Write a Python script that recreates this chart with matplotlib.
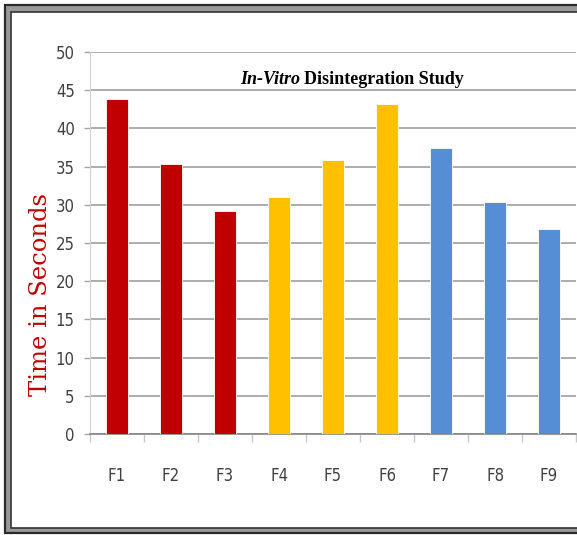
import matplotlib
matplotlib.use("Agg")
import matplotlib.pyplot as plt
from matplotlib.patches import Rectangle
import numpy as np

# disintegration times per formulation
formulations = ["F1", "F2", "F3", "F4", "F5", "F6", "F7", "F8", "F9"]
times = [43.8, 35.3, 29.2, 31.0, 35.8, 43.2, 37.4, 30.4, 26.8]
bar_colors = ["#C00000"] * 3 + ["#FFC000"] * 3 + ["#558ED5"] * 3
yticks = list(range(0, 55, 5))

W, H = 577, 535
fig = plt.figure(figsize=(W / 100, H / 100), dpi=100)


def fx(px):
    return px / W


def fy(py):
    return 1 - py / H


# double frame around the chart
fig.patches.append(Rectangle((fx(5), fy(533)), fx(700), 528 / H,
                             transform=fig.transFigure, facecolor="#9a9a9a",
                             edgecolor="#2a2a2a", linewidth=1.6, zorder=-2))
fig.patches.append(Rectangle((fx(11), fy(528)), fx(700), 516 / H,
                             transform=fig.transFigure, facecolor="white",
                             edgecolor="#333333", linewidth=1.2, zorder=-1))

ax = fig.add_axes([fx(90), fy(434), fx(576) - fx(90), (434 - 52) / H])
ax.set_zorder(2)
ax.set_facecolor("none")

x = np.arange(len(formulations))
ax.bar(x, times, width=0.4, color=bar_colors, edgecolor="white",
       linewidth=0.6, zorder=3)

ax.set_xlim(-0.5, len(formulations) - 0.5)
ax.set_ylim(0, 50)
ax.set_yticks(yticks)
ax.yaxis.grid(True, color="#a6a6a6", linewidth=1.3, zorder=0)
ax.set_axisbelow(True)

for side in ["top", "right"]:
    ax.spines[side].set_visible(False)
ax.spines["left"].set_color("#d0d0d0")
ax.spines["bottom"].set_color("#8c8c8c")
ax.spines["bottom"].set_linewidth(1.3)

tick_font = {"family": ["Liberation Sans Narrow", "DejaVu Sans"],
             "stretch": "condensed", "size": 12, "color": "#404040"}
ax.set_xticks(x)
ax.set_xticklabels(formulations, fontdict=tick_font)
ax.set_xticks(np.arange(-0.5, len(formulations)), minor=True)
ax.tick_params(axis="x", which="major", length=0, pad=24)
ax.tick_params(axis="x", which="minor", length=6, color="#c8c8c8", width=1)
ax.set_yticklabels([str(v) for v in yticks], fontdict=tick_font)
ax.tick_params(axis="y", length=4, color="#a6a6a6", width=1, pad=7)

fig.text(fx(41), fy(294), "Time in Seconds", rotation=90, ha="center",
         va="center", family="DejaVu Serif", fontsize=17.5,
         color="#C00000")

fig.text(fx(300), fy(79), "In-Vitro", ha="right", va="center",
         family="Liberation Serif", fontsize=13, style="italic",
         fontweight="bold", color="black")
fig.text(fx(304), fy(79), "Disintegration Study", ha="left", va="center",
         family="Liberation Serif", fontsize=13, fontweight="bold",
         color="black")

fig.savefig("out.png", dpi=100)
